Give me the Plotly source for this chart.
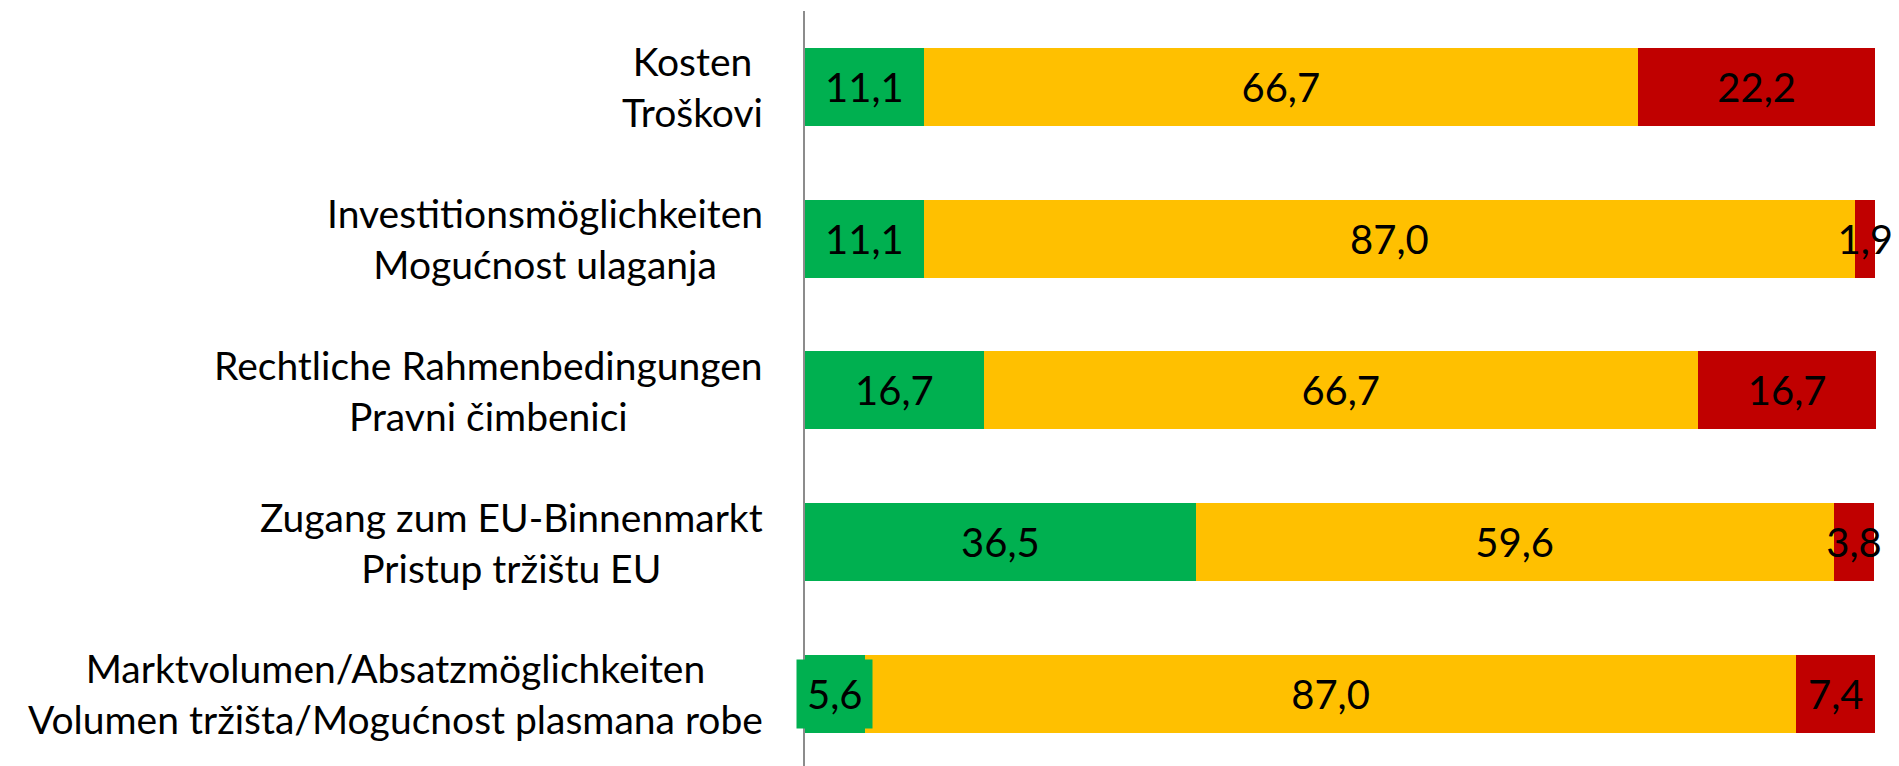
import plotly.graph_objects as go

categories = [
    "Kosten<br>Troškovi",
    "Investitionsmöglichkeiten<br>Mogućnost ulaganja",
    "Rechtliche Rahmenbedingungen<br>Pravni čimbenici",
    "Zugang zum EU-Binnenmarkt<br>Pristup tržištu EU",
    "Marktvolumen/Absatzmöglichkeiten<br>Volumen tržišta/Mogućnost plasmana robe",
]
green_vals = [11.1, 11.1, 16.7, 36.5, 5.6]
yellow_vals = [66.7, 87.0, 66.7, 59.6, 87.0]
red_vals = [22.2, 1.9, 16.7, 3.8, 7.4]

GREEN = "#00B050"
YELLOW = "#FFC000"
RED = "#C00000"

def fmt(v):
    return f"{v:.1f}".replace(".", ",")

LABEL_FONT = dict(family="Lato", size=40, color="black")

fig = go.Figure()
fig.add_trace(go.Bar(
    y=categories, x=green_vals, orientation="h", marker=dict(color=GREEN, line=dict(width=0)),
    width=0.514, showlegend=False, hoverinfo="skip",
))
fig.add_trace(go.Bar(
    y=categories, x=yellow_vals, orientation="h", marker=dict(color=YELLOW, line=dict(width=0)),
    width=0.514, text=[fmt(v) for v in yellow_vals], textposition="inside",
    insidetextanchor="middle", textangle=0, textfont=LABEL_FONT,
    showlegend=False, hoverinfo="skip",
))
fig.add_trace(go.Bar(
    y=categories, x=red_vals, orientation="h", marker=dict(color=RED, line=dict(width=0)),
    width=0.514, text=[fmt(v) for v in red_vals], textposition="inside",
    insidetextanchor="middle", textangle=0, textfont=LABEL_FONT,
    showlegend=False, hoverinfo="skip",
))

annotations = []
# green labels with filled box
for cat, v in zip(categories, green_vals):
    annotations.append(dict(
        x=v / 2, y=cat, xref="x", yref="y", text=fmt(v), showarrow=False,
        font=LABEL_FONT, bgcolor=GREEN, borderpad=10, xanchor="center", yanchor="middle",
    ))
# category labels, centered lines, right-aligned block
for cat in categories:
    annotations.append(dict(
        x=0, y=cat, xref="paper", yref="y", text=cat, showarrow=False,
        font=dict(family="Lato", size=39, color="black"), align="center",
        xanchor="right", yanchor="middle", xshift=-40,
    ))

fig.update_layout(
    width=1891, height=758,
    margin=dict(l=797, r=22, t=3, b=0),
    paper_bgcolor="white", plot_bgcolor="white",
    barmode="stack", uniformtext=dict(mode=False),
    annotations=annotations,
    xaxis=dict(visible=False, range=[0, 100.15], fixedrange=True),
    yaxis=dict(type="category", range=[4.4745, -0.5], showticklabels=False,
               showline=True, linecolor="#8c8c8c", linewidth=2, ticks="",
               showgrid=False, zeroline=False),
)
fig.update_traces(cliponaxis=False, constraintext="none")
fig.write_html("out.html")
